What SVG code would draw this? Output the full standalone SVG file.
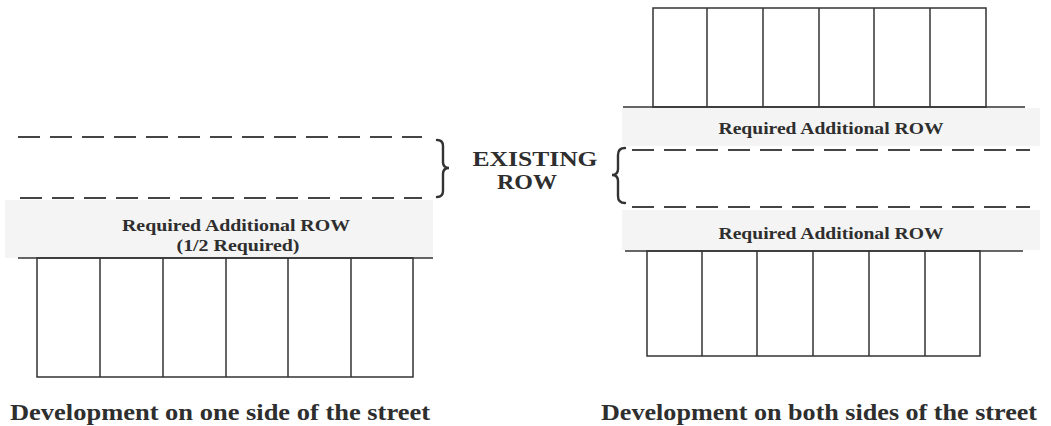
<svg xmlns="http://www.w3.org/2000/svg" width="1051" height="426" viewBox="0 0 1051 426">
<style>
.band{fill:#f4f4f4;stroke:none}
.solid{stroke:#333;stroke-width:1.6;fill:none}
.dash{stroke:#444;stroke-width:1.8;stroke-dasharray:22,10;fill:none}
.lot{stroke:#333;stroke-width:1.5;fill:none}
.brace{stroke:#333;stroke-width:2.4;fill:none;stroke-linecap:round}
text{font-family:"Liberation Serif","Times New Roman",serif;font-weight:bold;fill:#2e2e2e}
.lbl{font-size:17px}
.big{font-size:22px}
.cap{font-size:24px}
</style>
<rect width="1051" height="426" fill="#fff"/>
<g id="left-side">
  <g id="left-band">
    <rect class="band" x="5" y="200" width="428" height="58"/>
    <text class="lbl" x="236" y="231" text-anchor="middle" textLength="228" lengthAdjust="spacingAndGlyphs">Required Additional ROW</text>
    <text class="lbl" x="238" y="251" text-anchor="middle" textLength="123" lengthAdjust="spacingAndGlyphs">(1/2 Required)</text>
  </g>
  <g id="left-existing-row">
    <line class="dash" x1="18" y1="137" x2="422" y2="137"/>
    <line class="dash" x1="20" y1="198" x2="422" y2="198"/>
  </g>
  <g id="left-lots">
    <line class="solid" x1="18" y1="258" x2="433" y2="258"/>
    <rect class="lot" x="37" y="258" width="376" height="119"/>
    <line class="lot" x1="100" y1="258" x2="100" y2="377"/>
    <line class="lot" x1="163" y1="258" x2="163" y2="377"/>
    <line class="lot" x1="226" y1="258" x2="226" y2="377"/>
    <line class="lot" x1="288" y1="258" x2="288" y2="377"/>
    <line class="lot" x1="351" y1="258" x2="351" y2="377"/>
  </g>
  <text id="left-caption" class="cap" x="220" y="420" text-anchor="middle" textLength="420" lengthAdjust="spacingAndGlyphs">Development on one side of the street</text>
</g>
<g id="existing-row-label">
  <path class="brace" d="M437,140 Q443,140 443,146 L443,162 Q443,168 449,168 Q443,168 443,174 L443,191 Q443,197 437,197"/>
  <text class="big" x="535" y="166" text-anchor="middle" textLength="125" lengthAdjust="spacingAndGlyphs">EXISTING</text>
  <text class="big" x="527" y="189" text-anchor="middle" textLength="60" lengthAdjust="spacingAndGlyphs">ROW</text>
  <path class="brace" d="M625,148 Q618,148 618,155 L618,169 Q618,175 612,175 Q618,175 618,181 L618,196 Q618,203 625,203"/>
</g>
<g id="right-side">
  <g id="right-top-lots">
    <rect class="lot" x="653" y="8" width="333" height="99"/>
    <line class="lot" x1="707" y1="8" x2="707" y2="107"/>
    <line class="lot" x1="763" y1="8" x2="763" y2="107"/>
    <line class="lot" x1="819" y1="8" x2="819" y2="107"/>
    <line class="lot" x1="874" y1="8" x2="874" y2="107"/>
    <line class="lot" x1="930" y1="8" x2="930" y2="107"/>
  </g>
  <g id="right-top-band">
    <rect class="band" x="622" y="108" width="418" height="38"/>
    <line class="solid" x1="623" y1="107" x2="1025" y2="107"/>
    <text class="lbl" x="831" y="134" text-anchor="middle" textLength="225" lengthAdjust="spacingAndGlyphs">Required Additional ROW</text>
  </g>
  <g id="right-existing-row">
    <line class="dash" x1="632" y1="150" x2="1030" y2="150"/>
    <line class="dash" x1="632" y1="207" x2="1030" y2="207"/>
  </g>
  <g id="right-bottom-band">
    <rect class="band" x="622" y="210" width="418" height="40"/>
    <text class="lbl" x="831" y="239" text-anchor="middle" textLength="225" lengthAdjust="spacingAndGlyphs">Required Additional ROW</text>
  </g>
  <g id="right-bottom-lots">
    <line class="solid" x1="625" y1="251" x2="1023" y2="251"/>
    <rect class="lot" x="647" y="251" width="333" height="105"/>
    <line class="lot" x1="702" y1="251" x2="702" y2="356"/>
    <line class="lot" x1="757" y1="251" x2="757" y2="356"/>
    <line class="lot" x1="813" y1="251" x2="813" y2="356"/>
    <line class="lot" x1="869" y1="251" x2="869" y2="356"/>
    <line class="lot" x1="925" y1="251" x2="925" y2="356"/>
  </g>
  <text id="right-caption" class="cap" x="819" y="420" text-anchor="middle" textLength="436" lengthAdjust="spacingAndGlyphs">Development on both sides of the street</text>
</g>
</svg>
